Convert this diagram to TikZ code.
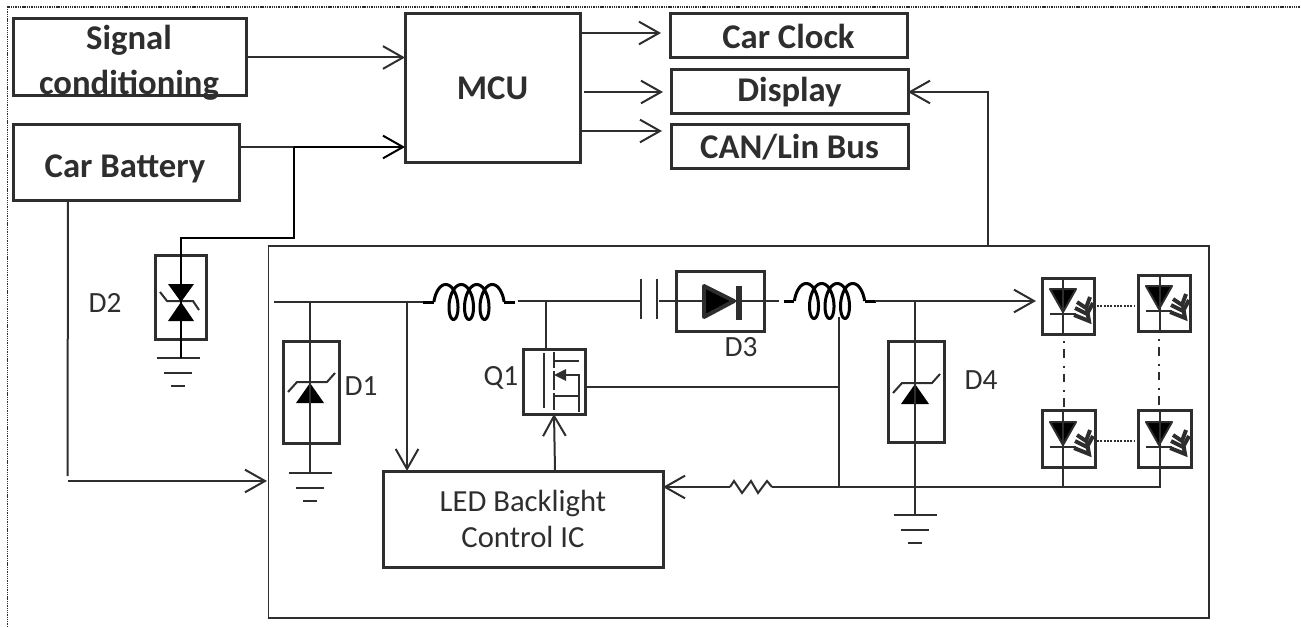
\documentclass[tikz,border=0pt]{standalone}
\usepackage{fontspec}
\setmainfont{Carlito}
\usetikzlibrary{arrows.meta}
\definecolor{ink}{HTML}{2E2E2E}
\tikzset{
  wire/.style={draw=ink, line width=1.5pt},
  feed/.style={wire, -{Straight Barb[length=15pt, width=17pt, line width=1.5pt]}},
  blackfeed/.style={feed, draw=black},
  blockbox/.style={draw=ink, line width=2.25pt, inner sep=0pt, outer sep=0pt, text=ink, align=center},
  bigtext/.style={text=ink, inner sep=0pt, align=center, font=\fontsize{26}{33.75}\selectfont\bfseries},
  ictext/.style={font=\fontsize{23}{27}\selectfont},
  partlabel/.style={text=ink, inner sep=0pt, font=\fontsize{22}{24}\selectfont},
  ground/.pic={
    \draw[wire] (-21.5,0) -- (21.5,0);
    \draw[wire] (-14,15) -- (14,15);
    \draw[wire] (-7,28) -- (7,28);
  },
  zener/.pic={
    \fill[black] (-14,0) -- (14,0) -- (0,-20) -- cycle;
    \draw[wire, line join=round] (-22,-11) -- (-13,-21) -- (17,-21) -- (25,-30);
  },
  tvs/.pic={
    \fill[black] (-13,-18) -- (13,-18) -- (0,0) -- cycle;
    \fill[black] (-13,19) -- (13,19) -- (0,0) -- cycle;
    \draw[wire] (-21,-10) -- (-14,-1) -- (12,-1) -- (18,8);
  },
  coil/.pic={
    \draw[draw=black, line width=2.25pt, smooth]
      plot[domain=-90:1170, samples=160] ({15.5*(\x-540)/360+8*sin(\x)},{-17.5*cos(\x)});
    \draw[draw=black, line width=2.25pt] (-46,0) -- ({15.5*(-630)/360-8},0);
    \draw[draw=black, line width=2.25pt] (46,0) -- ({15.5*(630)/360+8},0);
  },
  lightdiode/.pic={
    \fill[black, draw=ink, line width=1.5pt, line join=round] (-13,-25) -- (13,-25) -- (0,-2) -- cycle;
    \draw[wire, line width=2pt] (-13,0) -- (13,0);
    \draw[wire, line width=3pt] (27,-17) -- (23,-6) -- (14,-12);
    \draw[wire, line width=3pt] (30,-11) -- (24,0) -- (12,-6);
    \draw[wire, line width=3pt] (11,1) -- (26,7) -- (24,-4);
  },
  mosfet/.pic={
    \draw[wire] (21,4) -- (21,59);
    \draw[wire, line width=2pt] (31,3) -- (31,19);
    \draw[wire, line width=2pt] (31,22) -- (31,41);
    \draw[wire, line width=2pt] (31,44) -- (31,61);
    \draw[wire] (31,12) -- (56,12);
    \draw[wire] (31,47) -- (56,47);
    \draw[wire] (42,26) -- (56,26) -- (56,63);
    \fill[ink] (31,26) -- (43,20) -- (43,32) -- cycle;
  },
}
\newcommand\Block[6]{\node[blockbox, #1, minimum width={(#5-#3)*0.75pt}, minimum height={(#6-#4)*0.75pt}]
  (#2) at ({(#3+#5)/2},{(#4+#6)/2})}
\begin{document}
\begin{tikzpicture}[x=0.75pt, y=-0.75pt]
\useasboundingbox (0,0) rectangle (1301,627);
\draw[ink, line width=1pt, dash pattern=on 1pt off 0.7pt] (7.5,627) -- (7.5,7) -- (1301,7);
\draw[ink, line width=1.1pt] (268.5,246) rectangle (1209,618);

\Block{}{Signal}{13}{19}{246}{96} {};
\Block{}{Battery}{13}{125}{239}{201} {};
\Block{bigtext}{MCU}{405}{14}{580}{163} {MCU};
\Block{bigtext}{Clock}{670}{14}{907}{58} {Car Clock};
\Block{bigtext}{Display}{671}{70}{908}{114} {Display};
\Block{bigtext}{Bus}{671}{125}{908}{169} {CAN/Lin Bus};
\Block{ictext}{IC}{383}{471}{663}{567} {LED Backlight\\Control IC};
\Block{}{D1Box}{283}{341}{339}{443} {};
\Block{}{D2Box}{155}{255}{206}{339} {};
\Block{}{D3Box}{676}{271}{764}{331} {};
\Block{}{D4Box}{888}{341}{944}{442} {};
\Block{}{Q1Box}{523}{349}{585}{414} {};
\Block{}{LEDa}{1042}{278}{1094}{334} {};
\Block{}{LEDb}{1138}{275}{1190}{331} {};
\Block{}{LEDc}{1042}{410}{1095}{467} {};
\Block{}{LEDd}{1138}{410}{1191}{467} {};

\node[bigtext] (SignalText) at (129,62.5) {Signal\\conditioning};
\node[bigtext] (BatteryText) at (125,169) {Car Battery};
\node[partlabel] (D1) at (361,386) {D1};
\node[partlabel] (D2) at (105,303) {D2};
\node[partlabel] (D3) at (741,347) {D3};
\node[partlabel] (D4) at (981,380) {D4};
\node[partlabel] (Q1) at (501,378) {Q1};

\coordinate (BatJoin) at (294,147);
\coordinate (BatTop) at (181,238);
\coordinate (BatDown) at (68,201);
\coordinate (BatCorner) at (67.5,476);
\coordinate (FeedStart) at (68,481);
\coordinate (FeedEnd) at (267,481);
\coordinate (RailA) at (274,302);
\coordinate (CoilAIn) at (423,302);
\coordinate (CoilAOut) at (518,301);
\coordinate (CapA) at (640,301);
\coordinate (CapB) at (659,301);
\coordinate (CoilBIn) at (779,301);
\coordinate (CoilBOut) at (875,301);
\coordinate (RailEnd) at (1036,301);
\coordinate (TapD1) at (310,302);
\coordinate (TapIC) at (407,302);
\coordinate (TapQ1) at (546,301);
\coordinate (TapD4) at (915,301);
\coordinate (GndD1) at (310,473);
\coordinate (GndD2) at (181,358);
\coordinate (GndD4) at (915,515);
\coordinate (Sense) at (839,317);
\coordinate (SenseGate) at (839,387);
\coordinate (Back) at (1160,487);
\coordinate (BackC) at (1063,487);
\coordinate (BackS) at (839,487);
\coordinate (ResR) at (772,487);
\coordinate (ResL) at (730,487);
\coordinate (DispCorner) at (988,92);

\pic at (469,302) {coil};
\pic at (829.5,301) {coil};
\pic at (310,403) {zener};
\pic at (915,404) {zener};
\pic at (181,302) {tvs};
\pic at (523,349) {mosfet};
\pic at (310,473) {ground};
\pic at (915,515) {ground};
\pic at (178,358) {ground};
\pic at (1063,314) {lightdiode};
\pic at (1159,311) {lightdiode};
\pic at (1063,447) {lightdiode};
\pic at (1159,447) {lightdiode};

\path (Signal.east) edge[feed] (Signal.east -| MCU.west)
      (Battery.east |- BatJoin) edge[wire] (BatJoin);
\draw[blackfeed] (BatJoin) -- (BatJoin -| MCU.west);
\draw[wire, draw=black] (BatJoin) |- (BatTop) -- (GndD2);
\draw[wire] (BatDown) -- (BatCorner);
\draw[feed] (FeedStart) -- (FeedEnd);
\draw[feed] (MCU.east |- Clock.west) ++(2,-3) -- ++(79,0);
\draw[feed] (MCU.east |- Display.west) ++(4,0) -- ++(79,0);
\draw[feed] (MCU.east |- Bus.west) ++(2,-16) -- ++(80,0);
\draw[feed] (D3Box.north -| DispCorner) ++(0,-25) -- (DispCorner) -- (Display.east);

\draw[wire] (RailA) -- (CoilAIn);
\draw[wire] (CoilAOut) -- (CapA);
\draw[wire] (CapB) -- (CoilBIn);
\draw[feed] (CoilBOut) -- (RailEnd);
\draw[wire] (TapD1) -- (GndD1);
\draw[feed] (TapIC) -- (TapIC |- IC.north);
\draw[wire] (TapQ1) -- (TapQ1 |- Q1Box.north);
\draw[feed] (IC.north -| 555,0) -- (Q1Box.south -| 554,0);
\draw[wire] (Q1Box.east |- SenseGate) -- (SenseGate);
\draw[wire] (Sense) -- (BackS);
\draw[wire] (TapD4) -- (GndD4);
\draw[wire] (ResR) -- (Back) -- (Back |- LEDd.south);
\draw[wire] (BackC) -- (BackC |- LEDc.south);
\draw[feed] (ResL) -- (IC.east |- ResL);
\draw[wire] (ResL) -- ++(4,-6) -- ++(8,12) -- ++(9,-12) -- ++(7,12) -- ++(9,-12) -- (ResR);

\draw[wire] (641,279) -- (641,319);
\draw[wire] (657,279) -- (657,319);
\fill[black, draw=ink, line width=3pt, line join=round] (704,286) -- (704,317) -- (734,301) -- cycle;
\fill[ink] (736,286) rectangle (742,320);

\draw[wire] (LEDa.north -| BackC) -- (LEDa.south -| BackC);
\draw[wire] (LEDb.north -| Back) -- (LEDb.south -| Back);
\draw[wire] (LEDc.north -| BackC) -- (LEDc.south -| BackC);
\draw[wire] (LEDd.north -| Back) -- (LEDd.south -| Back);
\draw[wire, dash pattern=on 1.5pt off 1pt] (1097,306) -- (1134,306);
\draw[wire, dash pattern=on 1.5pt off 1pt] (1097,441) -- (1134,441);
\draw[wire, dash pattern=on 1.5pt off 4.5pt on 6.4pt off 6pt] (1063.5,341) -- (1063.5,408);
\draw[wire, dash pattern=on 1.5pt off 4.5pt on 6.4pt off 6pt] (1159,339) -- (1159,405);
\end{tikzpicture}
\end{document}
